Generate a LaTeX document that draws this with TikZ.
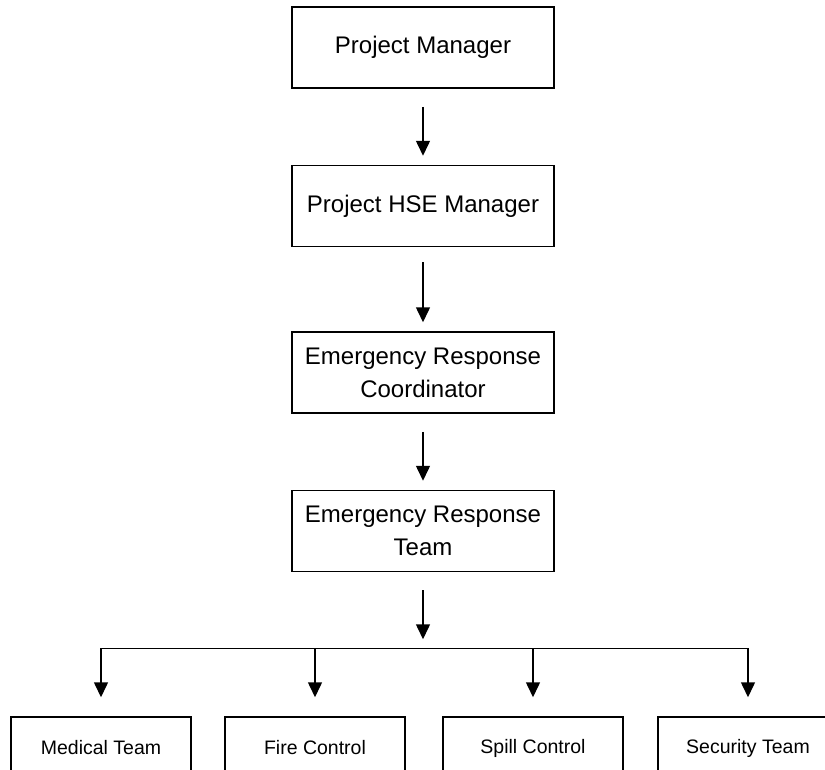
\documentclass[tikz,border=0pt]{standalone}
\usepackage{fontspec}
\setmainfont{Liberation Sans}
\usetikzlibrary{arrows.meta,positioning}
\tikzstyle{role}=[draw, line width=1.5pt, minimum width=262pt, minimum height=81pt, align=center, font=\fontsize{24}{33}\selectfont]
\tikzstyle{team}=[draw, line width=1.5pt, minimum width=180pt, minimum height=62pt, font=\fontsize{19.5}{24}\selectfont]
\tikzstyle{link}=[->, line width=1.5pt, shorten <=18pt, shorten >=9pt]
\tikzstyle{branch}=[->, line width=1.5pt, shorten >=19pt]
\begin{document}
\begin{tikzpicture}[node distance=76pt, >={Triangle[width=14pt,length=15pt]}]
    \useasboundingbox (0,0) rectangle (825pt,-769pt);
    \node (pm) [role] at (423pt,-47.5pt) {Project Manager};
    \node (hse) [role, below=of pm] {Project HSE Manager};
    \node (erc) [role, below=84pt of hse] {Emergency Response\\Coordinator};
    \node (ert) [role, below=of erc] {Emergency Response\\Team};
    \coordinate [below=of ert] (bar);
    %
    \node (med) [team, below=68pt of bar, xshift=-322pt] {Medical Team};
    \node (fire) [team, below=68pt of bar, xshift=-108pt] {Fire Control};
    \node (spill) [team, below=68pt of bar, xshift=110pt] {Spill Control};
    \node (sec) [team, below=68pt of bar, xshift=325pt] {Security Team};

    \draw [link] (pm) -- (hse);
    \draw [link, shorten <=15pt] (hse) -- (erc);
    \draw [link] (erc) -- (ert);
    \draw [link] (ert) -- (bar);
    \draw [line width=1.5pt] (med |- bar) -- (sec |- bar);
    \foreach \t in {med,fire,spill,sec}
        \draw [branch] (\t |- bar) -- (\t);
\end{tikzpicture}
\end{document}
